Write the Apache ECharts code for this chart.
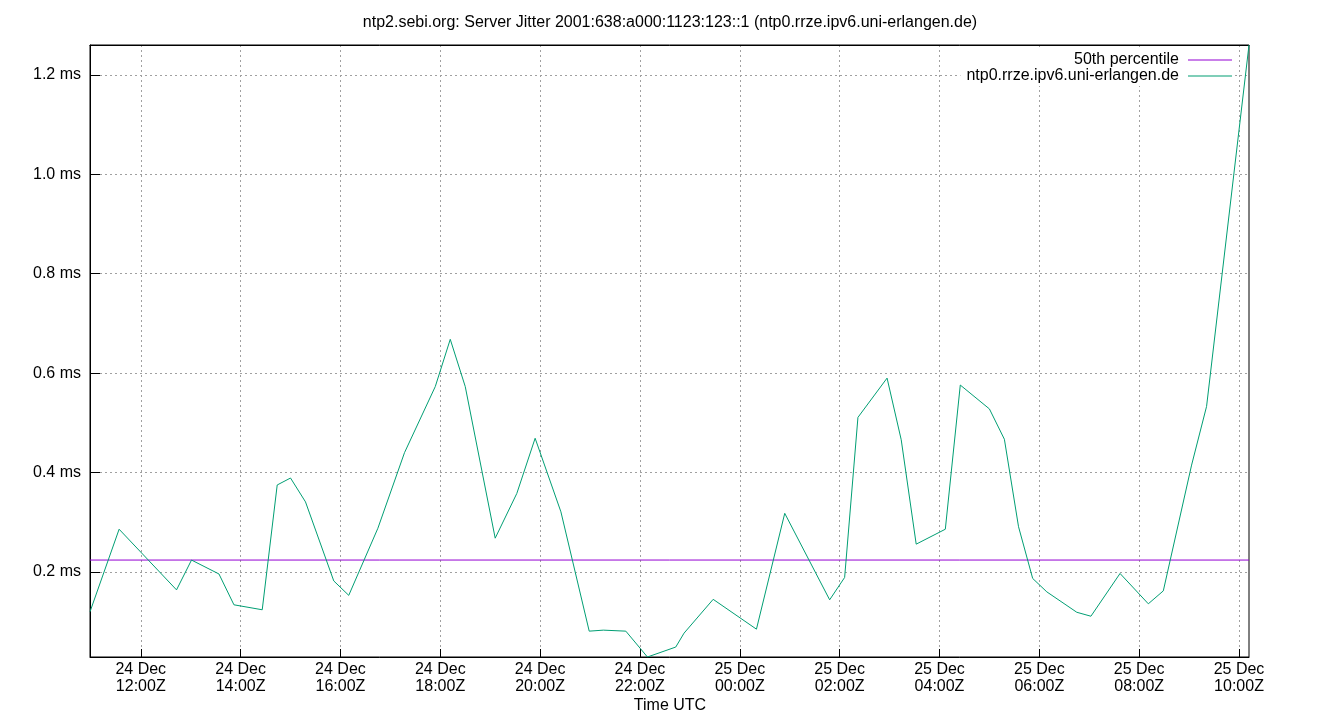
<!DOCTYPE html>
<html lang="en">
<head>
    <meta charset="UTF-8">
    <title>ntp2.sebi.org: Server Jitter</title>
    <style>
        html, body {
            margin: 0;
            padding: 0;
            background: #fff;
        }
        #main {
            width: 1340px;
            height: 720px;
        }
    </style>
    <script type="text/javascript" src="https://cdn.jsdelivr.net/npm/echarts@6/dist/echarts.min.js"></script>
</head>
<body>
<div id="main"></div>
<script type="text/javascript">
    // sample times (UTC) and jitter in ms
    var times = [
        '2023-12-24T10:59Z', '2023-12-24T11:34Z', '2023-12-24T12:43Z', '2023-12-24T13:01Z',
        '2023-12-24T13:34Z', '2023-12-24T13:52Z', '2023-12-24T14:26Z', '2023-12-24T14:44Z',
        '2023-12-24T15:00Z', '2023-12-24T15:18Z', '2023-12-24T15:52Z', '2023-12-24T16:10Z',
        '2023-12-24T16:45Z', '2023-12-24T17:17Z', '2023-12-24T17:54Z', '2023-12-24T18:12Z',
        '2023-12-24T18:30Z', '2023-12-24T19:06Z', '2023-12-24T19:32Z', '2023-12-24T19:54Z',
        '2023-12-24T20:25Z', '2023-12-24T20:59Z', '2023-12-24T21:16Z', '2023-12-24T21:43Z',
        '2023-12-24T22:09Z', '2023-12-24T22:43Z', '2023-12-24T22:53Z', '2023-12-24T23:28Z',
        '2023-12-25T00:20Z', '2023-12-25T00:54Z', '2023-12-25T01:48Z', '2023-12-25T02:06Z',
        '2023-12-25T02:22Z', '2023-12-25T02:57Z', '2023-12-25T03:14Z', '2023-12-25T03:32Z',
        '2023-12-25T04:07Z', '2023-12-25T04:25Z', '2023-12-25T05:00Z', '2023-12-25T05:18Z',
        '2023-12-25T05:35Z', '2023-12-25T05:52Z', '2023-12-25T06:09Z', '2023-12-25T06:45Z',
        '2023-12-25T07:02Z', '2023-12-25T07:37Z', '2023-12-25T08:11Z', '2023-12-25T08:29Z',
        '2023-12-25T09:03Z', '2023-12-25T09:21Z', '2023-12-25T10:12Z'
    ];
    var jitter = [
        0.120, 0.286, 0.164, 0.224,
        0.196, 0.134, 0.124, 0.375,
        0.389, 0.341, 0.182, 0.153,
        0.288, 0.440, 0.573, 0.668,
        0.573, 0.268, 0.358, 0.469,
        0.321, 0.081, 0.083, 0.081,
        0.029, 0.049, 0.077, 0.145,
        0.085, 0.318, 0.144, 0.189,
        0.511, 0.590, 0.466, 0.256,
        0.286, 0.576, 0.528, 0.467,
        0.291, 0.187, 0.160, 0.119,
        0.111, 0.197, 0.136, 0.162,
        0.415, 0.533, 1.260
    ];
    var median = 0.224;
    var xTicks = [
        '2023-12-24T12:00Z', '2023-12-24T14:00Z', '2023-12-24T16:00Z', '2023-12-24T18:00Z',
        '2023-12-24T20:00Z', '2023-12-24T22:00Z', '2023-12-25T00:00Z', '2023-12-25T02:00Z',
        '2023-12-25T04:00Z', '2023-12-25T06:00Z', '2023-12-25T08:00Z', '2023-12-25T10:00Z'
    ];
    var yTicks = [0.2, 0.4, 0.6, 0.8, 1.0, 1.2];
    var months = ['Jan','Feb','Mar','Apr','May','Jun','Jul','Aug','Sep','Oct','Nov','Dec'];

    var font = 'Liberation Sans';
    var xTickVals = xTicks.map(function (t) { return new Date(t).getTime(); });
    var serverData = times.map(function (t, i) { return [new Date(t).getTime(), jitter[i]]; });
    var medianData = [[serverData[0][0], median], [serverData[serverData.length - 1][0], median]];

    function pad(n) { return n < 10 ? '0' + n : '' + n; }

    var chart = echarts.init(document.getElementById('main'));
    var option = {
        animation: false,
        backgroundColor: '#fff',
        color: ['#9400d3', '#009e73'],
        textStyle: {fontFamily: font},
        title: [{
            text: 'ntp2.sebi.org: Server Jitter 2001:638:a000:1123:123::1 (ntp0.rrze.ipv6.uni-erlangen.de)',
            left: 'center',
            top: 10,
            textStyle: {fontFamily: font, fontSize: 16, fontWeight: 'normal', color: '#000'}
        }, {
            text: 'Time UTC',
            left: 'center',
            top: 698,
            padding: 0,
            textStyle: {fontFamily: font, fontSize: 16, fontWeight: 'normal', color: '#000'}
        }],
        legend: {
            orient: 'vertical',
            right: 106,
            top: 50,
            align: 'right',
            itemWidth: 44,
            itemHeight: 8,
            itemGap: 0,
            padding: [2, 2, 2, 6],
            backgroundColor: '#fff',
            textStyle: {fontFamily: font, fontSize: 16, color: '#000', padding: [0, 4, 0, 0]},
            data: [
                {name: '50th percentile', icon: 'path://M0,0 L44,0 L44,1 L0,1 Z', itemStyle: {color: '#9400d3'}},
                {name: 'ntp0.rrze.ipv6.uni-erlangen.de', icon: 'path://M0,0 L44,0 L44,1 L0,1 Z', itemStyle: {color: '#009e73'}}
            ]
        },
        grid: {
            left: 90, right: 91, top: 45, bottom: 63,
            show: true,
            borderColor: '#000',
            borderWidth: 1
        },
        xAxis: [{
            type: 'value',
            min: 'dataMin',
            max: 'dataMax',
            scale: true,
            axisLine: {show: true, onZero: false, lineStyle: {color: '#000'}},
            axisTick: {show: true, inside: true, length: 8, customValues: xTickVals, lineStyle: {color: '#000'}},
            splitLine: {show: true, lineStyle: {color: '#a0a0a0', type: [2, 3], width: 1}},
            axisLabel: {
                customValues: xTickVals,
                color: '#000',
                fontSize: 16,
                fontFamily: font,
                lineHeight: 17,
                margin: 4,
                hideOverlap: false,
                formatter: function (v) {
                    var d = new Date(v);
                    return d.getUTCDate() + ' ' + months[d.getUTCMonth()] + '\n' +
                        pad(d.getUTCHours()) + ':' + pad(d.getUTCMinutes()) + 'Z';
                }
            }
        }, {
            // mirrored ticks along the top border
            type: 'value',
            position: 'top',
            min: 'dataMin',
            max: 'dataMax',
            scale: true,
            axisLine: {show: true, onZero: false, lineStyle: {color: '#000'}},
            axisTick: {show: true, inside: true, length: 8, customValues: xTickVals, lineStyle: {color: '#000'}},
            axisLabel: {show: false, customValues: xTickVals},
            splitLine: {show: false}
        }],
        yAxis: {
            type: 'value',
            min: 'dataMin',
            max: 'dataMax',
            scale: true,
            axisLine: {show: true, onZero: false, lineStyle: {color: '#000'}},
            axisTick: {show: true, inside: true, length: 10, customValues: yTicks, lineStyle: {color: '#000'}},
            splitLine: {show: true, lineStyle: {color: '#a0a0a0', type: [2, 3], width: 1}},
            axisLabel: {
                customValues: yTicks,
                color: '#000',
                fontSize: 16,
                fontFamily: font,
                margin: 9,
                formatter: function (v) { return v.toFixed(1) + ' ms'; }
            }
        },
        series: [
            {
                name: '50th percentile',
                type: 'line',
                xAxisIndex: 0,
                symbol: 'none',
                z: 3,
                data: medianData,
                color: '#9400d3',
                lineStyle: {color: '#9400d3', width: 1},
                emphasis: {disabled: true}
            },
            {
                name: 'ntp0.rrze.ipv6.uni-erlangen.de',
                type: 'line',
                xAxisIndex: 0,
                symbol: 'none',
                z: 4,
                data: serverData,
                color: '#009e73',
                lineStyle: {color: '#009e73', width: 1},
                emphasis: {disabled: true}
            }
        ]
    };
    chart.setOption(option);
</script>
</body>
</html>
